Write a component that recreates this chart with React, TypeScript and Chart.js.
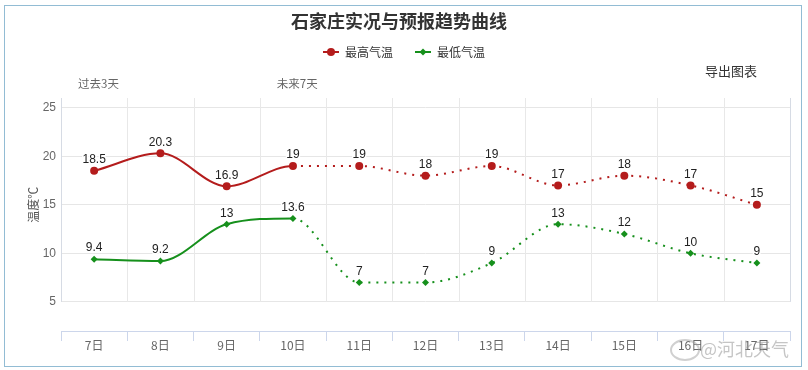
import React, { useEffect, useRef } from "react";
import { Chart, registerables } from "chart.js";
Chart.register(...registerables);

const categories = ["7日", "8日", "9日", "10日", "11日", "12日", "13日", "14日", "15日", "16日", "17日"];
const maxTemps = [18.5, 20.3, 16.9, 19, 19, 18, 19, 17, 18, 17, 15];
const minTemps = [9.4, 9.2, 13, 13.6, 7, 7, 9, 13, 12, 10, 9];
const yTicks = [5, 10, 15, 20, 25];
const periodLabels = [
  { text: "过去3天", index: 0 },
  { text: "未来7天", index: 3 },
];
const observedCount = 4;
const seriesNames = ["最高气温", "最低气温"];

const FF = '"Liberation Sans", "Noto Sans CJK SC", sans-serif';
const CJK = '"Noto Sans CJK SC", "Liberation Sans", sans-serif';
const RED = "#b41c1c";
const GREEN = "#16901c";

const extras = {
  id: "extras",
  beforeDatasetsDraw(chart: any) {
    const { ctx, chartArea, scales } = chart;
    const x = scales.x;
    const y = scales.y;
    const n = categories.length;
    const w = (chartArea.right - chartArea.left) / n;
    const yb = y.getPixelForValue(yTicks[0]);
    ctx.save();
    ctx.lineWidth = 1;
    for (let i = 0; i <= n; i++) {
      const px = Math.round(x.getPixelForValue(0) - w / 2 + i * w) + 0.5;
      ctx.strokeStyle = i === 0 || i === n ? "#d6dbe4" : "#e8e8e8";
      ctx.beginPath();
      ctx.moveTo(px, chartArea.top);
      ctx.lineTo(px, yb);
      ctx.stroke();
    }
    ctx.restore();
  },
  afterDatasetsDraw(chart: any) {
    const { ctx } = chart;
    ctx.save();
    ctx.font = `12px ${FF}`;
    ctx.textAlign = "center";
    ctx.textBaseline = "bottom";
    ctx.lineJoin = "round";
    chart.data.datasets.forEach((ds: any, di: number) => {
      const meta = chart.getDatasetMeta(di);
      meta.data.forEach((pt: any, i: number) => {
        const t = String(ds.data[i]);
        ctx.lineWidth = 3;
        ctx.strokeStyle = "#fff";
        ctx.strokeText(t, pt.x, pt.y - 5);
        ctx.fillStyle = "#222";
        ctx.fillText(t, pt.x, pt.y - 5);
      });
    });
    ctx.restore();
  },
  afterDraw(chart: any) {
    const { ctx, chartArea, scales } = chart;
    const x = scales.x;
    const y = scales.y;
    const n = categories.length;
    const w = (chartArea.right - chartArea.left) / n;
    ctx.save();
    // period labels
    ctx.font = `11.5px ${CJK}`;
    ctx.fillStyle = "#666";
    ctx.textAlign = "left";
    ctx.textBaseline = "middle";
    periodLabels.forEach((p) => {
      const bx = x.getPixelForValue(p.index) - w / 2;
      ctx.fillText(p.text, bx + 17, chartArea.top - 14);
    });
    // y axis title
    ctx.save();
    ctx.translate(33, y.getPixelForValue(15));
    ctx.rotate(-Math.PI / 2);
    ctx.textAlign = "center";
    ctx.font = `12px ${CJK}`;
    ctx.fillStyle = "#555";
    ctx.fillText("温度℃", 0, 0);
    ctx.restore();
    // legend
    ctx.font = `12px ${CJK}`;
    ctx.textBaseline = "middle";
    const colors = [RED, GREEN];
    const mw = 16, gap = 6, between = 22;
    const widths = seriesNames.map((s) => mw + gap + ctx.measureText(s).width);
    const total = widths.reduce((a, b) => a + b, 0) + between * (seriesNames.length - 1);
    let cx = 404 - total / 2;
    const ly = 52;
    seriesNames.forEach((s, i) => {
      ctx.strokeStyle = colors[i];
      ctx.fillStyle = colors[i];
      ctx.lineWidth = 2;
      ctx.beginPath();
      ctx.moveTo(cx, ly);
      ctx.lineTo(cx + mw, ly);
      ctx.stroke();
      ctx.beginPath();
      if (i === 0) {
        ctx.arc(cx + mw / 2, ly, 4, 0, Math.PI * 2);
      } else {
        const r = 3.5;
        ctx.moveTo(cx + mw / 2, ly - r);
        ctx.lineTo(cx + mw / 2 + r, ly);
        ctx.lineTo(cx + mw / 2, ly + r);
        ctx.lineTo(cx + mw / 2 - r, ly);
        ctx.closePath();
      }
      ctx.fill();
      ctx.fillStyle = "#333";
      ctx.textAlign = "left";
      ctx.fillText(s, cx + mw + gap, ly);
      cx += widths[i] + between;
    });
    ctx.restore();
  },
};

export default function App() {
  const ref = useRef<HTMLCanvasElement>(null);
  useEffect(() => {
    const dash = (c: any) => (c.p0DataIndex >= observedCount - 1 ? [2, 6] : undefined);
    const chart = new Chart(ref.current as HTMLCanvasElement, {
      type: "line",
      data: {
        labels: categories,
        datasets: [
          {
            label: seriesNames[0],
            data: maxTemps,
            borderColor: RED,
            backgroundColor: RED,
            borderWidth: 2,
            pointStyle: "circle",
            pointRadius: 4,
            pointBorderWidth: 0,
            cubicInterpolationMode: "monotone",
            segment: { borderDash: dash },
          },
          {
            label: seriesNames[1],
            data: minTemps,
            borderColor: GREEN,
            backgroundColor: GREEN,
            borderWidth: 2,
            pointStyle: "rectRot",
            pointRadius: 3.5,
            pointBorderWidth: 0,
            cubicInterpolationMode: "monotone",
            segment: { borderDash: dash },
          },
        ],
      },
      options: {
        animation: false,
        responsive: false,
        devicePixelRatio: 1,
        layout: { padding: { left: 8, right: 18, top: 0, bottom: 0 } },
        plugins: {
          legend: { display: false },
          tooltip: { enabled: false },
          title: {
            display: true,
            text: "石家庄实况与预报趋势曲线",
            color: "#333",
            font: { family: CJK, size: 18, weight: "bold", lineHeight: 1.2 },
            padding: { top: 10, bottom: 66.4 },
          },
        },
        scales: {
          x: {
            type: "category",
            offset: true,
            grid: {
              drawOnChartArea: false,
              drawTicks: true,
              tickLength: 10,
              color: "#ccd6eb",
              offset: true,
            },
            border: { display: true, color: "#ccd6eb" },
            ticks: { color: "#666", font: { family: CJK, size: 12 }, padding: -3 },
            afterFit: (s: any) => {
              s.height = 39;
            },
          },
          y: {
            min: 2,
            max: 26,
            afterBuildTicks: (s: any) => {
              s.ticks = yTicks.map((v) => ({ value: v }));
            },
            grid: { color: "#e6e6e6", drawTicks: false },
            border: { display: false },
            ticks: { color: "#666", font: { family: FF, size: 12 }, padding: 5 },
            afterFit: (s: any) => {
              s.width = 53;
            },
          },
        },
      },
      plugins: [extras],
    } as any);
    return () => chart.destroy();
  }, []);

  return (
    <div style={{ position: "absolute", left: 0, top: 0, width: 808, height: 370, background: "#fff" }}>
      <canvas
        ref={ref}
        width={808}
        height={370}
        style={{ position: "absolute", left: 0, top: 0, width: 808, height: 370 }}
      />
      <div
        style={{
          position: "absolute",
          left: 4,
          top: 5,
          width: 798,
          height: 362,
          boxSizing: "border-box",
          border: "1px solid #92bcd4",
          pointerEvents: "none",
        }}
      />
      <div
        style={{
          position: "absolute",
          left: 705,
          top: 62,
          font: `13px ${CJK}`,
          color: "#333",
          lineHeight: "18px",
        }}
      >
        导出图表
      </div>
      <div
        style={{
          position: "absolute",
          left: 670,
          top: 339,
          width: 26,
          height: 18,
          borderRadius: "50%",
          border: "2px solid rgba(150,150,150,0.45)",
        }}
      />
      <div
        style={{
          position: "absolute",
          left: 700,
          top: 336,
          font: `18px ${CJK}`,
          color: "rgba(150,150,150,0.55)",
          lineHeight: "24px",
          whiteSpace: "nowrap",
        }}
      >
        @河北天气
      </div>
    </div>
  );
}
